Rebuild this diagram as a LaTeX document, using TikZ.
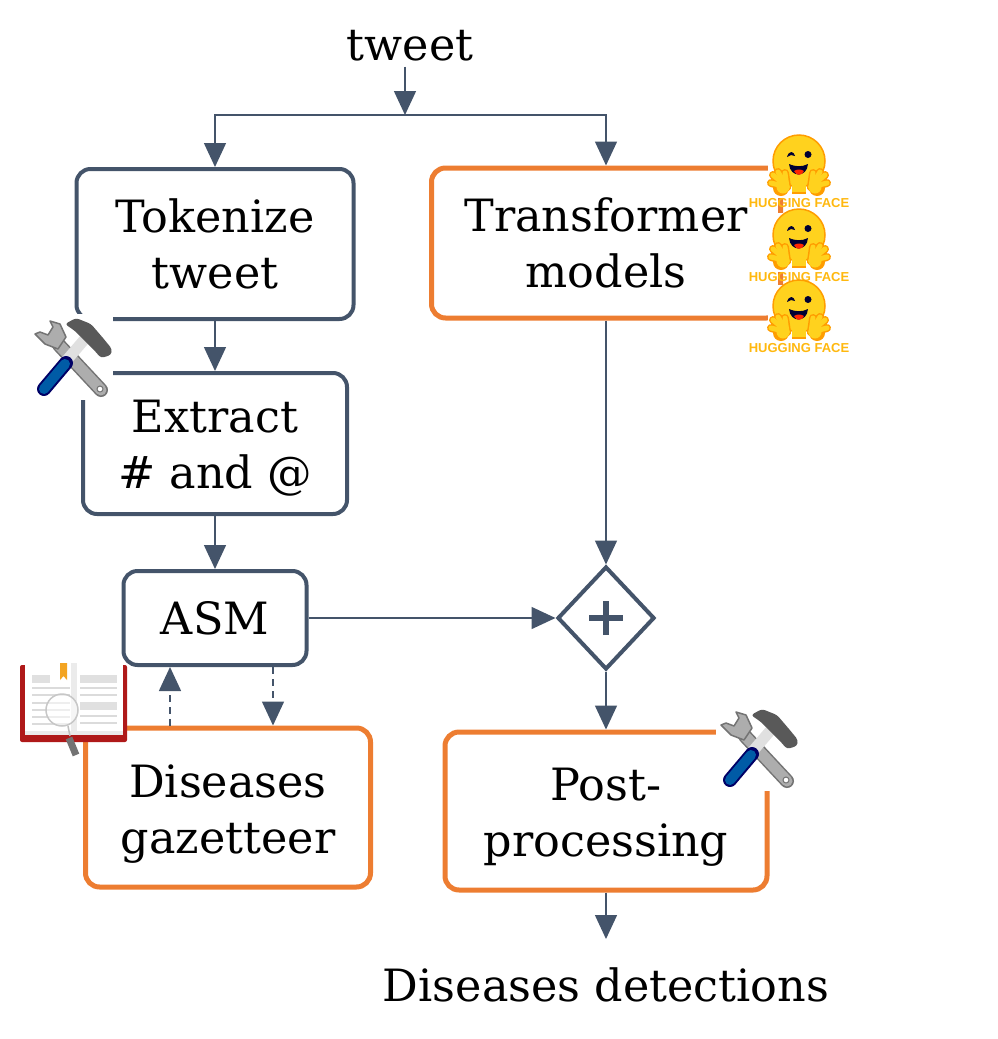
\documentclass[tikz,border=0pt]{standalone}
\usepackage{fontspec}
\setmainfont{DejaVu Serif}
\newfontfamily\logofont{Liberation Sans}
\usetikzlibrary{arrows.meta,shapes.geometric}
\definecolor{slateblue}{HTML}{44546A}
\definecolor{boxorange}{HTML}{ED7D31}
\definecolor{hfyellow}{HTML}{FFD21E}
\definecolor{hforange}{HTML}{FF9D00}
\newcommand{\toppad}[1]{\rule{0pt}{#1}}
\tikzset{
    box/.style={draw=slateblue,line width=4pt,rounded corners=14pt,align=center,inner sep=0pt,font=\fontsize{44.5}{56}\selectfont},
    hardbox/.style={box,draw=boxorange,line width=5pt},
    flow/.style={draw=slateblue,line width=1.5pt,-{Triangle[width=22pt,length=24pt]},color=slateblue},
    dashflow/.style={flow,dash pattern=on 7pt off 5pt},
    plaintext/.style={inner sep=5pt,font=\fontsize{44.5}{56}\selectfont},
    finger/.style={line cap=round,line width=#1},
    toolicon/.pic={
        \fill[white] (-43,-43) rectangle (40,43);
        \draw[black!55,line width=14pt,line cap=round] (-14,-12) -- (28,33);
        \draw[black!32,line width=11pt,line cap=round] (-14,-12) -- (28,33);
        \filldraw[fill=black!32,draw=black!55,line width=1.5pt,line join=round] (-38,-23) -- (-33,-25) -- (-25,-22) -- (-20,-30) -- (-23,-36) -- (-13,-33) -- (-7,-20) -- (-15,-8) -- (-28,-13) -- cycle;
        \draw[black!55,fill=white,line width=1pt] (27,32) circle (3pt);
        \draw[line width=11pt,color=black!12] (-7,4) -- (11,-17);
        \draw[line width=14pt,line cap=round,color=blue!40!black] (-29,32) -- (-7,6);
        \draw[line width=10pt,line cap=round,color=blue!45!cyan!65!black] (-29,32) -- (-8,7);
        \fill[black!65,rounded corners=3pt] (-8,-33) -- (3,-39) -- (18,-33) -- (30,-19) -- (39,-8) -- (38,-2) -- (28,1) -- (21,-7) -- (11,-17) -- (2,-26) -- cycle;
    },
    hugface/.pic={
        \fill[hfyellow,draw=hforange,line width=1.5pt] (0,-14) circle (26pt);
        \fill[hfyellow] (-7,8) rectangle (7,18);
        \draw[hforange,line width=1.5pt] (-7,18) -- (7,18);
        \fill[black!80!blue] (-12,-18) .. controls (-10,-25) and (-5,-24) .. (-4,-19) -- (-8,-20) -- cycle;
        \fill[black!80!blue] (9,-20.5) circle (3.5pt);
        \fill[black!80!blue] (-10,-11) .. controls (-3,-8) and (3,-8) .. (9,-11) .. controls (8,3) and (-9,3) .. (-10,-11) -- cycle;
        \fill[red!70!orange] (-5,-4) .. controls (-2,-6) and (2,-6) .. (5,-4) .. controls (3,1) and (-3,1) .. (-5,-4) -- cycle;
        \foreach \sx in {-1,1} {
            \foreach \tx/\ty in {28/8,26/0,21/-3,14/-2} {
                \draw[hforange,finger=8pt] (\sx*12,12) -- (\sx*\tx,\ty);
            }
            \fill[hforange] (\sx*18,13) circle (8pt);
            \foreach \tx/\ty in {28/8,26/0,21/-3,14/-2} {
                \draw[hfyellow,finger=5pt] (\sx*12,12) -- (\sx*\tx,\ty);
            }
            \fill[hfyellow] (\sx*16,12) circle (6.5pt);
        }
        \node[inner sep=0pt,text=hfyellow!50!hforange,font=\logofont\bfseries\fontsize{13}{14}\selectfont] (-tag) at (0,28) {HUGGING FACE};
    },
    bookicon/.pic={
        \fill[red!65!black!90,rounded corners=2pt] (-53,-35) rectangle (54,42);
        \fill[black!8] (-48,-37) rectangle (50,35);
        \fill[white] (-48,-37) rectangle (-2,31);
        \fill[white] (4,-37) rectangle (50,31);
        \fill[black!12] (-41,-25) rectangle (-23,-17);
        \fill[black!12] (7,-25) rectangle (44,-17);
        \fill[boxorange!70!yellow] (-13,-37) -- (-6,-37) -- (-6,-20) -- (-9.5,-24) -- (-13,-20) -- cycle;
        \foreach \y in {-12,-5,3,10,17,24}
        \draw[black!14,line width=1.5pt] (-41,\y) -- (-3,\y);
        \foreach \y in {-12,-5,16,23}
        \draw[black!14,line width=1.5pt] (7,\y) -- (44,\y);
        \fill[black!12] (7,2) rectangle (44,10);
        \draw[black!55,line width=7pt] (-4,38) -- (3,55);
        \draw[black!25,line width=1.5pt] (-5,26) -- (-3,36);
        \filldraw[fill=white,fill opacity=.55,draw=black!22,line width=1.5pt] (-11,10) circle (16pt);
    },
}
\begin{document}
\begin{tikzpicture}[x=1pt,y=-1pt]
    \useasboundingbox (0,0) rectangle (997,1039);
    % top of the flow
    \node[plaintext] (tweet) at (410,46) {tweet};
    \coordinate (split) at (405,115);
    \coordinate (result) at (606,939);
    % left branch
    \node[box,minimum width=277pt,minimum height=150pt] (tokenize) at (215,244) {Tokenize\\tweet};
    \node[box,minimum width=264pt,minimum height=141pt] (extract) at (215,443.5) {\toppad{41pt}Extract\\\# and @};
    \node[box,minimum width=183pt,minimum height=94pt] (asm) at (215,618) {ASM};
    \node[hardbox,minimum width=285pt,minimum height=159pt] (gazetteer) at (228,807.5) {\toppad{46pt}Diseases\\gazetteer};
    % right branch
    \node[hardbox,minimum width=349pt,minimum height=150pt] (transformer) at (606,243) {Transformer\\models};
    \node[diamond,draw=slateblue,line width=4pt,minimum width=97pt,minimum height=103pt,inner sep=0pt] (plus) at (606,618) {};
    \node[hardbox,minimum width=322pt,minimum height=158pt] (postproc) at (606,811) {\toppad{44.5pt}Post-\\processing};
    \node[plaintext] (detections) at (606,985) {Diseases detections};
    % plus sign
    \draw[slateblue,line width=6pt] ([xshift=-17pt]plus.center) -- ([xshift=17pt]plus.center);
    \draw[slateblue,line width=6pt] ([yshift=-17pt]plus.center) -- ([yshift=17pt]plus.center);
    % connectors
    \draw[flow] (tweet.south -| split) -- (split);
    \draw[flow] (split) -| (tokenize);
    \draw[flow] (split) -| (transformer);
    \draw[flow] (tokenize) -- (extract);
    \draw[flow] (extract) -- (asm);
    \draw[flow] (asm) -- (plus);
    \draw[flow] (transformer) -- (plus);
    \draw[flow] (plus) -- (postproc);
    \draw[flow] (postproc) -- (result);
    \draw[dashflow] ([xshift=-58pt]gazetteer.north) -- ([xshift=-45pt]asm.south);
    \draw[dashflow] ([xshift=58pt]asm.south) -- ([xshift=45pt]gazetteer.north);
    % icons on top of the boxes
    \pic (tool1) at (73,357) {toolicon};
    \pic (tool2) at (759,748) {toolicon};
    \pic (book) at (73,700) {bookicon};
    \fill[white] (768,133) rectangle (852,198);
    \fill[white] (768,213) rectangle (852,272);
    \fill[white] (768,285) rectangle (852,340);
    \pic (face1) at (799,175) {hugface};
    \pic (face2) at (799,249) {hugface};
    \pic (face3) at (799,320) {hugface};
\end{tikzpicture}
\end{document}
